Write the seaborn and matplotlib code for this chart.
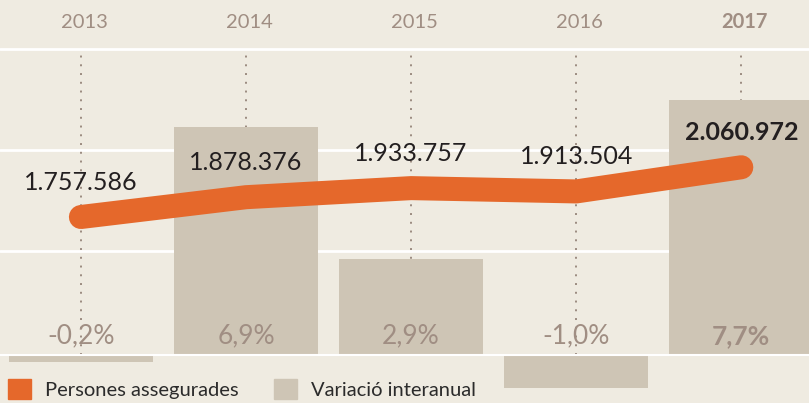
import matplotlib
matplotlib.use("Agg")
import matplotlib.pyplot as plt
from matplotlib.patches import Patch
import numpy as np
import pandas as pd
import seaborn as sns

# data
years = ["2013", "2014", "2015", "2016", "2017"]
insured = [1757586, 1878376, 1933757, 1913504, 2060972]
insured_labels = ["1.757.586", "1.878.376", "1.933.757", "1.913.504", "2.060.972"]
change_pct = [-0.2, 6.9, 2.9, -1.0, 7.7]
change_labels = ["-0,2%", "6,9%", "2,9%", "-1,0%", "7,7%"]
legend_labels = ["Persones assegurades", "Variació interanual"]

bg = "#efebe1"
bar_col = "#cec5b5"
orange = "#e5682b"
muted = "#a08e83"
dark = "#231f20"

sns.set_theme(style="white")
plt.rcParams["font.family"] = ["Lato", "DejaVu Sans"]

df = pd.DataFrame({"year": years, "insured": insured, "change": change_pct})

fig = plt.figure(figsize=(8.09, 4.03), dpi=100, facecolor=bg)
ax = fig.add_axes([0, 0, 1, 1], facecolor=bg)

# bars: yearly change
sns.barplot(data=df, x="year", y="change", color=bar_col, width=0.873,
            saturation=1, errorbar=None, ax=ax, zorder=1, linewidth=0,
            edgecolor=bar_col)

ax.set_xlim(-0.49, 4.41)
ax.set_ylim(-1.45, 10.725)
ax.set_yticks([3.14, 6.19, 9.245])
ax.grid(axis="y", color="white", lw=2)
ax.set_axisbelow(True)
ax.axhline(0, color="white", lw=1.5, zorder=3)

pos = np.arange(len(years))
ax.vlines(pos, 0, 9.245, colors="#9b8b80", linestyles=(0, (1, 3.5)),
          lw=1.4, zorder=0.9)

for sp in ax.spines.values():
    sp.set_visible(False)
ax.tick_params(left=False, bottom=False, labelleft=False, labelbottom=False)
ax.set(xlabel="", ylabel="")

last = len(years) - 1
for i, (yr, lab) in enumerate(zip(years, change_labels)):
    w = "bold" if i == last else "normal"
    ax.text(i, 0.57, lab, ha="center", va="center", fontsize=19,
            color=muted, fontweight=w, zorder=4)
    ax.text(i + 0.02, 10.05, yr, ha="center", va="center", fontsize=14.5,
            color=muted, fontweight=w)

# line: insured people
ax2 = ax.twinx()
sns.lineplot(data=df, x="year", y="insured", ax=ax2, color=orange, lw=17.3,
             solid_capstyle="round", solid_joinstyle="round")
ax2.set_ylim(622986, 3081286)
ax2.set_xlim(-0.49, 4.41)
ax2.set_axis_off()

for i, (v, lab) in enumerate(zip(insured, insured_labels)):
    w = "bold" if i == last else "normal"
    ax2.annotate(lab, (i, v), xytext=(0, 25), textcoords="offset points",
                 ha="center", va="center", fontsize=18, color=dark,
                 fontweight=w)

handles = [Patch(color=orange), Patch(color=bar_col)]
fig.legend(handles, legend_labels, loc="upper left",
           bbox_to_anchor=(8 / 809, 1 - 379 / 403), ncol=2, frameon=False,
           borderpad=0, borderaxespad=0, fontsize=14.5, handlelength=1.14,
           handleheight=1.14, handletextpad=0.7, columnspacing=1.75,
           labelcolor="#2b2b2b")

fig.savefig("out.png", dpi=100, facecolor=bg)
